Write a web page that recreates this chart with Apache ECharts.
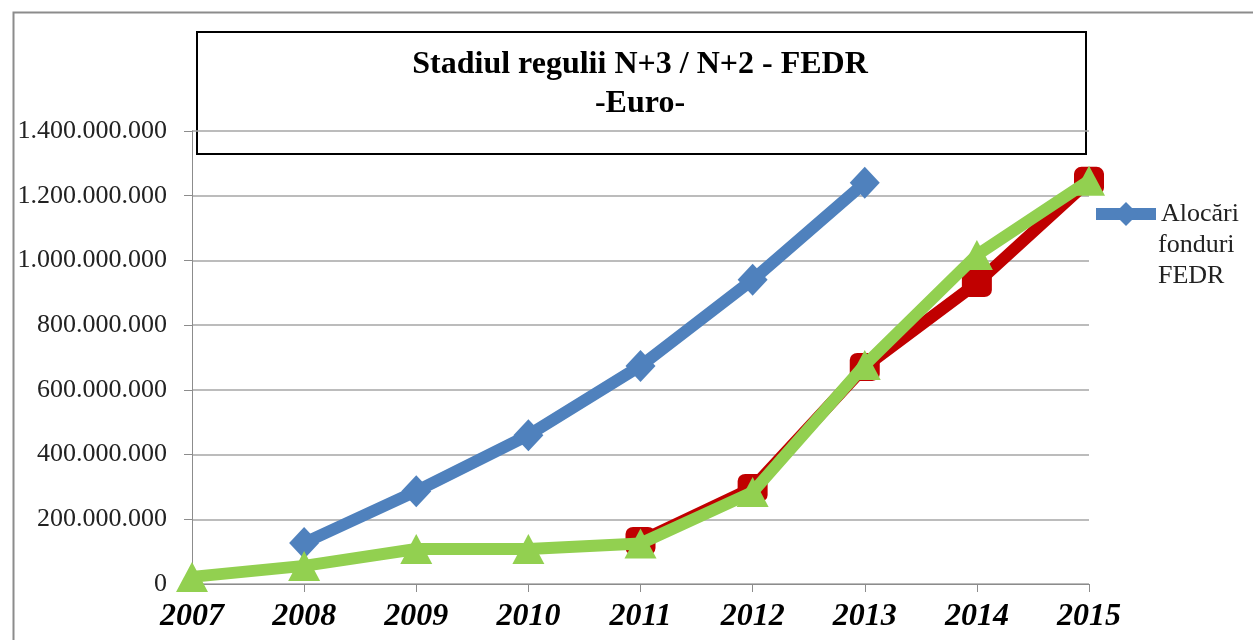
<!DOCTYPE html>
<html>
<head>
<meta charset="utf-8">
<script src="https://cdn.jsdelivr.net/npm/echarts@6/dist/echarts.min.js"></script>
<style>
  html, body { margin: 0; padding: 0; background: #fff; }
  #chart { width: 1253px; height: 640px; }
</style>
</head>
<body>
<div id="chart"></div>
<script>
const years = ['2007', '2008', '2009', '2010', '2011', '2012', '2013', '2014', '2015'];
const yTicks = [0, 200000000, 400000000, 600000000, 800000000, 1000000000, 1200000000, 1400000000];

// values (euro)
const alocari = [null, 127000000, 287000000, 460000000, 674000000, 940000000, 1240000000, null, null];
const tinta = [null, null, null, null, 133000000, 297000000, 671000000, 930000000, 1246000000];
const realizat = [22000000, 56000000, 108000000, 108000000, 125000000, 284000000, 677000000, 1017000000, 1246000000];

const seriesNames = ['Alocări fonduri FEDR', 'Ținta N+3 / N+2', 'Cheltuieli declarate'];

const fmt = v => String(v).replace(/\B(?=(\d{3})+(?!\d))/g, '.');

const chart = echarts.init(document.getElementById('chart'));

const serif = 'Liberation Serif';

const option = {
  animation: false,
  backgroundColor: '#fff',
  title: {
    text: 'Stadiul regulii N+3 / N+2 - FEDR\n-Euro-',
    left: 635,
    top: 40,
    textAlign: 'center',
    textStyle: {
      fontFamily: serif,
      fontWeight: 'bold',
      fontSize: 32,
      lineHeight: 39,
      color: '#000'
    }
  },
  graphic: [
    {
      type: 'rect',
      left: 11, top: 10,
      shape: { width: 1300, height: 700 },
      style: { fill: 'none', stroke: '#8c8c8c', lineWidth: 2 },
      silent: true,
      z: 100
    },
    {
      type: 'rect',
      left: 196, top: 31,
      shape: { width: 889, height: 122 },
      style: { fill: '#fff', stroke: '#000', lineWidth: 2 },
      silent: true,
      z: 0
    },
    {
      type: 'text',
      left: 1158,
      top: 230,
      style: {
        text: 'fonduri\nFEDR',
        font: '26px "Liberation Serif"',
        lineHeight: 31,
        fill: '#222'
      }
    }
  ],
  legend: {
    data: [seriesNames[0]],
    left: 1090,
    top: 201,
    padding: 0,
    itemWidth: 60,
    itemHeight: 30,
    formatter: () => 'Alocări',
    lineStyle: { width: 12 },
    textStyle: {
      fontFamily: serif,
      fontSize: 26,
      color: '#222'
    }
  },
  grid: {
    left: 192,
    right: 164,
    top: 131,
    bottom: 56,
    containLabel: false
  },
  xAxis: {
    type: 'category',
    data: years,
    boundaryGap: false,
    axisLine: { lineStyle: { color: '#8c8c8c', width: 1 } },
    axisTick: { show: true, length: 8, alignWithLabel: true, lineStyle: { color: '#8c8c8c' } },
    axisLabel: {
      margin: 17,
      fontFamily: serif,
      fontStyle: 'italic',
      fontWeight: 'bold',
      fontSize: 32,
      color: '#000'
    },
    splitLine: { show: false }
  },
  yAxis: {
    type: 'value',
    min: yTicks[0],
    max: yTicks[yTicks.length - 1],
    interval: yTicks[1] - yTicks[0],
    axisLine: { show: true, lineStyle: { color: '#8c8c8c', width: 1 } },
    axisTick: { show: true, length: 8, lineStyle: { color: '#8c8c8c' } },
    axisLabel: {
      margin: 25,
      formatter: v => fmt(v),
      fontFamily: serif,
      fontSize: 26,
      color: '#222'
    },
    splitLine: { lineStyle: { color: '#a6a6a6', width: 1.5 } }
  },
  series: [
    {
      name: seriesNames[0],
      type: 'line',
      data: alocari,
      connectNulls: false,
      symbol: 'diamond',
      symbolSize: [30, 32],
      lineStyle: { width: 12, color: '#4F81BD' },
      itemStyle: { color: '#4F81BD' },
      z: 2
    },
    {
      name: seriesNames[1],
      type: 'line',
      data: tinta,
      symbol: 'roundRect',
      symbolSize: [30, 28],
      lineStyle: { width: 12, color: '#C00000' },
      itemStyle: { color: '#C00000' },
      z: 3
    },
    {
      name: seriesNames[2],
      type: 'line',
      data: realizat,
      symbol: 'triangle',
      symbolSize: [32, 30],
      lineStyle: { width: 12, color: '#92D050' },
      itemStyle: { color: '#92D050' },
      z: 4
    }
  ]
};

chart.setOption(option);
</script>
</body>
</html>
